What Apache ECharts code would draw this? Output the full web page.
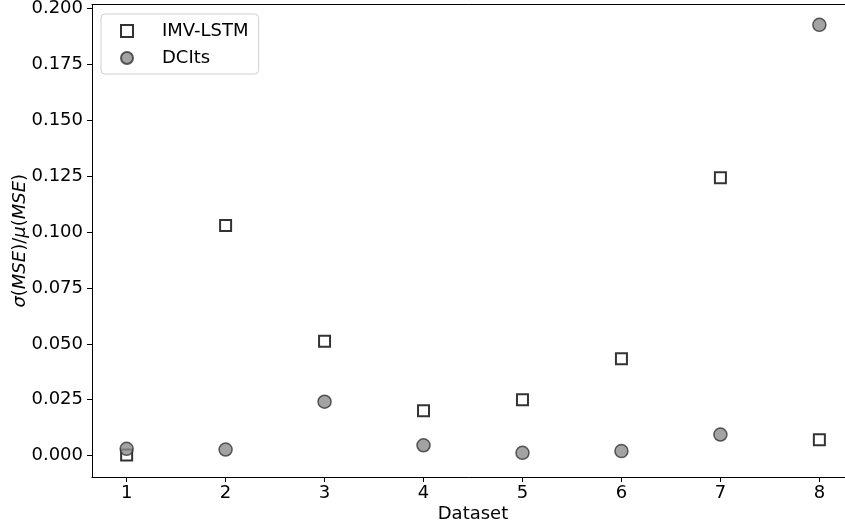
<!DOCTYPE html>
<html>
<head>
<meta charset="utf-8">
<script src="https://cdn.jsdelivr.net/npm/echarts@6/dist/echarts.min.js"></script>
<style>
  html, body { margin: 0; padding: 0; background: #fff; }
  #chart { width: 845px; height: 523px; }
</style>
</head>
<body>
<div id="chart"></div>
<script>
// values
const datasets = [1, 2, 3, 4, 5, 6, 7, 8]
const imvLstm = [0.0003, 0.1030, 0.0512, 0.0201, 0.0250, 0.0433, 0.1243, 0.0071]
const dcits = [0.0030, 0.0027, 0.0241, 0.0046, 0.0012, 0.0020, 0.0094, 0.1928]
const yTicks = [0, 0.025, 0.05, 0.075, 0.1, 0.125, 0.15, 0.175, 0.2]

const font = 'DejaVu Sans'
const pairs = vals => datasets.map((d, i) => [d, vals[i]])

const chart = echarts.init(document.getElementById('chart'))
chart.setOption({
  backgroundColor: '#fff',
  animation: false,
  textStyle: { fontFamily: font },
  grid: {
    left: 92,
    top: 4.5,
    bottom: 46,
    right: -9,
    outerBoundsMode: 'none',
    containLabel: false
  },
  legend: {
    left: 101,
    top: 14,
    orient: 'vertical',
    padding: [8, 10, 7, 19],
    itemGap: 9,
    itemWidth: 12,
    itemHeight: 12,
    borderColor: '#d0d0d0',
    borderWidth: 1,
    borderRadius: 4,
    backgroundColor: 'rgba(255,255,255,0.8)',
    textStyle: { fontFamily: font, fontSize: 18, color: '#000', padding: [0, 0, 0, 24] },
    data: [
      { name: 'IMV-LSTM', icon: 'rect' },
      { name: 'DCIts', icon: 'circle' }
    ]
  },
  xAxis: [
    {
      type: 'value',
      min: 0.65,
      max: 8.35,
      name: 'Dataset',
      nameLocation: 'middle',
      nameGap: 28,
      nameMoveOverlap: false,
      nameTextStyle: { fontFamily: font, fontSize: 18, color: '#000' },
      splitLine: { show: false },
      axisLine: { show: true, onZero: false, lineStyle: { color: '#000', width: 1 } },
      axisTick: { show: true, length: 5, lineStyle: { color: '#000' }, customValues: datasets },
      axisLabel: { fontFamily: font, fontSize: 18, color: '#000', margin: 7, customValues: datasets }
    },
    {
      // top spine only
      type: 'value',
      position: 'top',
      min: 0.65,
      max: 8.35,
      splitLine: { show: false },
      axisLine: { show: true, onZero: false, lineStyle: { color: '#000', width: 1 } },
      axisTick: { show: false },
      axisLabel: { show: false }
    }
  ],
  yAxis: {
    type: 'value',
    min: -0.0096,
    max: 0.2019,
    name: '{i|σ}{n|(}{i|MSE}{n|)/}{i|μ}{n|(}{i|MSE}{n|)}',
    nameLocation: 'middle',
    nameGap: 63,
    nameMoveOverlap: false,
    nameTextStyle: {
      fontFamily: font,
      fontSize: 18,
      color: '#000',
      rich: {
        i: { fontFamily: font, fontSize: 18, fontStyle: 'italic', color: '#000' },
        n: { fontFamily: font, fontSize: 18, color: '#000' }
      }
    },
    splitLine: { show: false },
    axisLine: { show: true, onZero: false, lineStyle: { color: '#000', width: 1 } },
    axisTick: { show: true, length: 5, lineStyle: { color: '#000' }, customValues: yTicks },
    axisLabel: {
      fontFamily: font,
      fontSize: 18,
      color: '#000',
      margin: 9,
      customValues: yTicks,
      formatter: v => v.toFixed(3)
    }
  },
  series: [
    {
      name: 'IMV-LSTM',
      type: 'scatter',
      symbol: 'rect',
      symbolSize: 11,
      itemStyle: { color: '#fff', borderColor: '#000', borderWidth: 2 },
      data: pairs(imvLstm)
    },
    {
      name: 'DCIts',
      type: 'scatter',
      symbol: 'circle',
      symbolSize: 13,
      itemStyle: { color: '#8c8c8c', borderColor: '#333', borderWidth: 1.5 },
      data: pairs(dcits)
    }
  ]
})
</script>
</body>
</html>
